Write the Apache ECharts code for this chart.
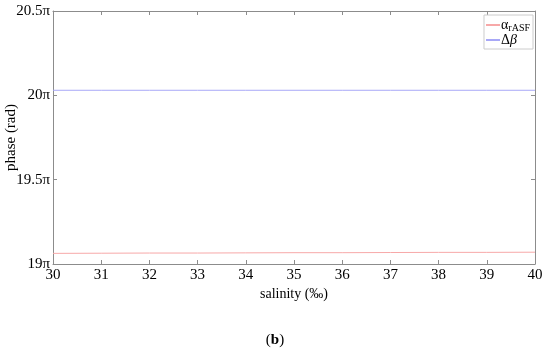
<!DOCTYPE html>
<html><head><meta charset="utf-8">
<script src="https://cdn.jsdelivr.net/npm/echarts@6/dist/echarts.min.js"></script>
<style>html,body{margin:0;padding:0;background:#fff}#c{width:550px;height:353px}</style>
</head><body><div id="c"></div>
<script>
const salinity = [30,31,32,33,34,35,36,37,38,39,40];
const alphaRASF = [19.063,19.064,19.065,19.065,19.066,19.067,19.067,19.068,19.069,19.069,19.070];
const deltaBeta = [20.03,20.03,20.03,20.03,20.03,20.03,20.03,20.03,20.03,20.03,20.03];
const xTicks = [30,31,32,33,34,35,36,37,38,39,40];
const yTicks = [19,19.5,20,20.5];

const F = 'Liberation Serif';
const axisColor = '#8c8c8c';
const chart = echarts.init(document.getElementById('c'));
const common = {
  axisLine:{show:true,lineStyle:{color:axisColor,width:1}},
  axisTick:{show:true,inside:true,length:4,lineStyle:{color:axisColor}},
  splitLine:{show:false}
};
chart.setOption({
  animation:false,
  grid:{left:53,right:15,top:11,bottom:89,containLabel:false,outerBoundsMode:'none'},
  legend:{
    right:17, top:15, orient:'vertical', itemGap:0, itemWidth:14, itemHeight:2,
    padding:[2,3,2,2],
    borderColor:'#cccccc', borderWidth:1, backgroundColor:'#fff',
    icon:'rect',
    data:['alpha','beta'],
    formatter:function(n){ return n==='alpha' ? '{a|α}{s|rASF}' : '{a|Δ}{b|β}'; },
    textStyle:{fontFamily:F,color:'#000',fontSize:14,padding:[0,0,0,-4],
      rich:{a:{fontFamily:F,fontSize:14,color:'#000',lineHeight:16},
            s:{fontFamily:F,fontSize:10,color:'#000',verticalAlign:'bottom',lineHeight:16,padding:[6,0,0,0]},
            b:{fontFamily:F,fontSize:14,fontStyle:'italic',color:'#000',lineHeight:16}}}
  },
  xAxis:[
    Object.assign({type:'value',min:30,max:40,interval:1,position:'bottom',
      name:'salinity (‰)',nameLocation:'middle',nameGap:23,nameMoveOverlap:false,
      nameTextStyle:{fontFamily:F,fontSize:14,color:'#000'},
      axisLabel:{fontFamily:F,fontSize:15,color:'#000',margin:4}},common),
    Object.assign({type:'value',min:30,max:40,interval:1,position:'top',
      axisLabel:{show:false}},common)
  ],
  yAxis:[
    Object.assign({type:'value',min:19,max:20.5,interval:0.5,position:'left',
      name:'phase (rad)',nameLocation:'middle',nameGap:34,nameMoveOverlap:false,
      nameTextStyle:{fontFamily:F,fontSize:15,color:'#000'},
      axisLabel:{fontFamily:F,fontSize:15,color:'#000',margin:3,
        formatter:function(v){return v+'π';}}},common),
    Object.assign({type:'value',min:19,max:20.5,interval:0.5,position:'right',
      axisLabel:{show:false}},common)
  ],
  series:[
    {name:'alpha',type:'line',showSymbol:false,symbol:'none',
      data:salinity.map((x,i)=>[x,alphaRASF[i]]),
      lineStyle:{color:'#f7a8a8',width:1},itemStyle:{color:'#f7a8a8'}},
    {name:'beta',type:'line',showSymbol:false,symbol:'none',
      data:salinity.map((x,i)=>[x,deltaBeta[i]]),
      lineStyle:{color:'#a8a8f7',width:1},itemStyle:{color:'#a8a8f7'}}
  ],
  graphic:[{type:'text',left:'center',top:333,
    style:{text:'({b|b})',fontFamily:F,fontSize:15,fill:'#000',
      rich:{b:{fontFamily:F,fontSize:15,fontWeight:'bold',fill:'#000'}}}}]
});
</script></body></html>
